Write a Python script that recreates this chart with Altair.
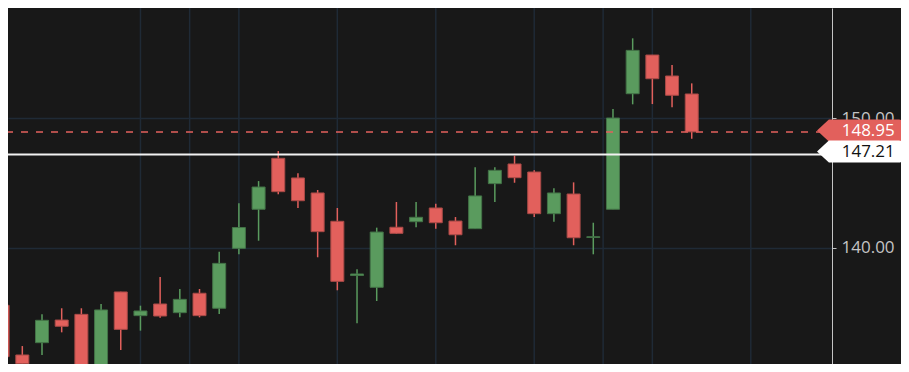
import altair as alt
import pandas as pd

# ---- data ----
opens  = [135.55, 131.71, 132.66, 134.41, 134.85, 129.20, 136.58, 134.75, 135.65, 134.98,
          136.48, 135.32, 139.95, 142.97, 146.91, 145.39, 144.23, 142.04, 137.85, 136.94,
          141.58, 142.01, 143.07, 142.06, 141.47, 144.95, 146.47, 145.85, 142.63, 144.15,
          140.79, 142.97, 151.90, 154.89, 153.27, 151.88]
highs  = [135.70, 132.40, 134.85, 135.32, 135.32, 135.65, 136.60, 135.52, 137.74, 136.81,
          136.81, 139.69, 143.43, 145.15, 147.47, 145.75, 144.46, 143.07, 138.33, 141.55,
          143.53, 143.53, 143.40, 142.37, 146.21, 146.21, 147.11, 145.98, 144.59, 145.05,
          141.93, 150.72, 156.18, 154.90, 154.12, 152.70]
lows   = [131.40, 129.60, 131.71, 133.46, 128.60, 128.80, 132.09, 133.59, 134.59, 134.62,
          134.62, 134.88, 139.49, 140.54, 144.13, 143.07, 139.26, 136.71, 134.16, 135.88,
          141.06, 141.58, 141.47, 140.19, 141.47, 143.53, 145.02, 142.37, 142.01, 140.19,
          139.49, 142.97, 151.08, 151.10, 150.85, 148.42]
closes = [131.58, 131.04, 134.39, 133.93, 129.00, 135.19, 133.69, 135.11, 134.72, 136.01,
          134.75, 138.79, 141.56, 144.69, 144.33, 143.63, 141.24, 137.40, 137.97, 141.21,
          141.11, 142.35, 141.93, 141.00, 144.00, 145.98, 145.41, 142.63, 144.23, 140.77,
          140.85, 150.02, 155.25, 153.06, 151.78, 148.95]
grid_x = [7, 9.5, 12, 17, 22, 27, 30.5, 33, 38]
y_ticks = [140, 150]
last_value = [148.95]
last_label = ["148.95"]
ref_value = [147.21]
ref_label = ["147.21"]

# ---- styling ----
BG = "#181818"
GRID = "#1f2a36"
RED = "#e2605c"
RED_DARK = "#a94a47"
GREEN = "#5a9b5e"
GREEN_DARK = "#437347"
AXIS = "#c4c4c4"
FONT = "Open Sans"

df = pd.DataFrame({"i": list(range(len(opens))), "open": opens, "high": highs,
                   "low": lows, "close": closes})
df["dir"] = ["up" if c >= o else "down" for o, c in zip(opens, closes)]

xs = alt.Scale(domain=[0.527, 41.87], nice=False, zero=False)
ys = alt.Scale(domain=[131.013, 158.524], nice=False, zero=False)
yaxis = alt.Axis(orient="right", values=y_ticks, format=".2f", title=None,
                 grid=True, gridColor=GRID, gridWidth=1.5,
                 domainColor=AXIS, domainWidth=1, tickColor=AXIS, tickSize=4,
                 labelFont=FONT, labelFontSize=17, labelColor=AXIS, labelPadding=5)

vgrid = alt.Chart(pd.DataFrame({"g": grid_x})).mark_rule(
    color=GRID, strokeWidth=1.5).encode(x=alt.X("g:Q", scale=xs, axis=None))

wicks = alt.Chart(df).mark_rule(strokeWidth=1.5, clip=True).encode(
    x=alt.X("i:Q", scale=xs, axis=None),
    y=alt.Y("low:Q", scale=ys, axis=yaxis),
    y2="high:Q",
    color=alt.Color("dir:N", scale=alt.Scale(domain=["up", "down"], range=[GREEN, RED]),
                    legend=None),
)

bodies = alt.Chart(df).mark_bar(width=13, strokeWidth=1, clip=True).encode(
    x=alt.X("i:Q", scale=xs, axis=None),
    y=alt.Y("open:Q", scale=ys, axis=yaxis),
    y2="close:Q",
    fill=alt.Fill("dir:N", scale=alt.Scale(domain=["up", "down"], range=[GREEN, RED]),
                  legend=None),
    stroke=alt.Stroke("dir:N", scale=alt.Scale(domain=["up", "down"],
                                               range=[GREEN_DARK, RED_DARK]), legend=None),
)

last_df = pd.DataFrame({"v": last_value, "label": last_label})
ref_df = pd.DataFrame({"v": ref_value, "label": ref_label})

last_line = alt.Chart(last_df).mark_rule(
    color=RED, strokeWidth=1.5, strokeDash=[7, 8], strokeDashOffset=2).encode(
    y=alt.Y("v:Q", scale=ys, axis=yaxis), x=alt.value(0), x2=alt.value(820))

ref_line = alt.Chart(ref_df).mark_rule(color="#f2f2f2", strokeWidth=2).encode(
    y=alt.Y("v:Q", scale=ys, axis=yaxis), x=alt.value(0), x2=alt.value(820))

LABEL_PATH = ("M-1,0L-0.72,-0.259L0.93,-0.259Q1,-0.259,1,-0.19L1,0.19"
              "Q1,0.259,0.93,0.259L-0.72,0.259Z")

last_box = alt.Chart(last_df).mark_point(
    shape=LABEL_PATH, filled=True, size=7225, opacity=1, color=RED, yOffset=-1.4).encode(
    y=alt.Y("v:Q", scale=ys, axis=yaxis), x=alt.value(851.5))
last_text = alt.Chart(last_df).mark_text(
    align="left", baseline="middle", font=FONT, fontSize=17, color="#ffffff",
    yOffset=-1).encode(
    y=alt.Y("v:Q", scale=ys, axis=yaxis), x=alt.value(833.7), text="label:N")

ref_box = alt.Chart(ref_df).mark_point(
    shape=LABEL_PATH, filled=True, size=7225, opacity=1, color="#ffffff", yOffset=-3).encode(
    y=alt.Y("v:Q", scale=ys, axis=yaxis), x=alt.value(851.5))
ref_text = alt.Chart(ref_df).mark_text(
    align="left", baseline="middle", font=FONT, fontSize=17, color="#111111",
    yOffset=-2).encode(
    y=alt.Y("v:Q", scale=ys, axis=yaxis), x=alt.value(833.7), text="label:N")

chart = alt.layer(
    vgrid, wicks, bodies, last_line, ref_line, last_box, last_text, ref_box, ref_text
).properties(
    width=824, height=356,
    padding={"left": 0, "top": 0, "right": 69, "bottom": 0},
    autosize=alt.AutoSizeParams(type="none"),
    background=BG,
).configure_view(stroke=None)

chart.save("out.html", embed_options={"renderer": "svg", "actions": False})
